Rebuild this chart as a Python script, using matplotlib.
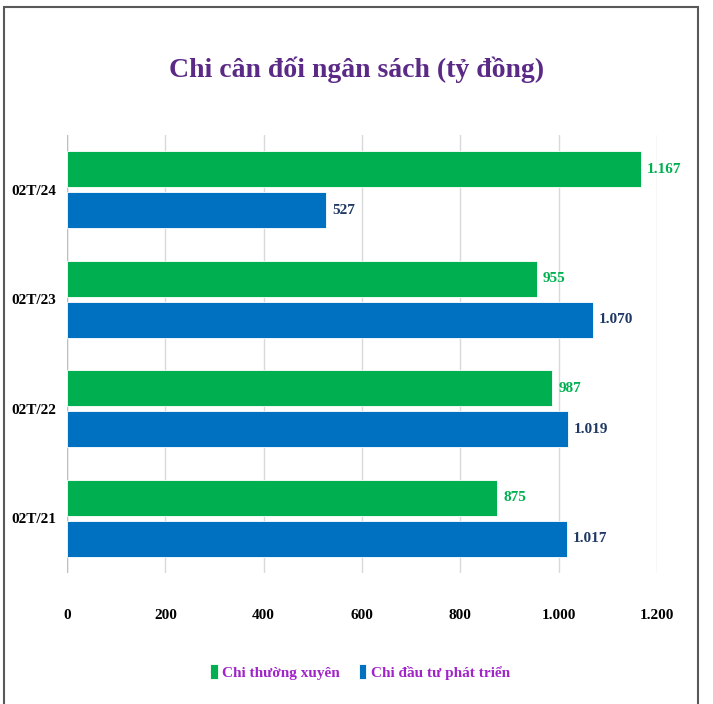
import matplotlib
matplotlib.use("Agg")
import matplotlib.pyplot as plt
import numpy as np
from matplotlib.patches import Rectangle
from matplotlib.ticker import FuncFormatter

categories = ["02T/21", "02T/22", "02T/23", "02T/24"]
chi_thuong_xuyen = [875, 987, 955, 1167]
chi_dau_tu = [1017, 1019, 1070, 527]
series_names = ["Chi thường xuyên", "Chi đầu tư phát triển"]
x_ticks = [0, 200, 400, 600, 800, 1000, 1200]

GREEN = "#00B050"
BLUE = "#0070C0"
NAVY = "#1F3864"
TITLE_C = "#5B2A86"
LEG_C = "#A024C8"

plt.rcParams['font.family'] = ['Liberation Serif', 'DejaVu Serif']
plt.rcParams['font.weight'] = 'bold'

def fmt(v):
    return f"{v:,.0f}".replace(",", ".")

fig = plt.figure(figsize=(7.13, 7.04), dpi=100)
ax = fig.add_axes([67/713, 1-573/704, (657-67)/713, (573-135)/704])

y = np.arange(len(categories))
h = 0.33
off = 0.187
b1 = ax.barh(y + off, chi_thuong_xuyen, height=h, color=GREEN, edgecolor="white", linewidth=0.6, label=series_names[0], zorder=3)
b2 = ax.barh(y - off, chi_dau_tu, height=h, color=BLUE, edgecolor="white", linewidth=0.6, label=series_names[1], zorder=3)

for rect, v in zip(b1, chi_thuong_xuyen):
    ax.text(v + 12, rect.get_y() + rect.get_height()/2, fmt(v), color=GREEN, fontsize=11,
            fontweight='bold', va='center', ha='left')
for rect, v in zip(b2, chi_dau_tu):
    ax.text(v + 12, rect.get_y() + rect.get_height()/2, fmt(v), color=NAVY, fontsize=11,
            fontweight='bold', va='center', ha='left')

ax.set_xlim(0, 1200)
ax.set_ylim(-0.5, 3.5)
ax.set_xticks(x_ticks)
ax.xaxis.set_major_formatter(FuncFormatter(lambda v, p: fmt(v)))
ax.set_yticks(y)
ax.set_yticklabels(categories)
ax.tick_params(axis='both', length=0, labelsize=11, colors='black')
ax.tick_params(axis='x', pad=26)
ax.tick_params(axis='y', pad=8)
for s in ax.spines.values():
    s.set_visible(False)
ax.grid(axis='x', color='#D9D9D9', linewidth=1, zorder=0)
ax.axvline(0, color='#BFBFBF', linewidth=1, zorder=1)
ax.set_axisbelow(True)

fig.text(0.5, 1-70/704, "Chi cân đối ngân sách (tỷ đồng)", ha='center', va='center',
         fontsize=20, fontweight='bold', color=TITLE_C)

leg = fig.legend(handles=[b1, b2], labels=series_names, loc='center', bbox_to_anchor=(0.505, 1-672/704),
                 ncol=2, frameon=False, fontsize=11, handlelength=0.5, handleheight=1.1,
                 handletextpad=0.3, columnspacing=1.2)
for t in leg.get_texts():
    t.set_color(LEG_C)

fig.patches.append(Rectangle((4/713, -0.02), (698-4)/713, 1-7/704 + 0.02, transform=fig.transFigure,
                             fill=False, edgecolor='#595959', linewidth=1.5))

fig.savefig("out.png", dpi=100)
